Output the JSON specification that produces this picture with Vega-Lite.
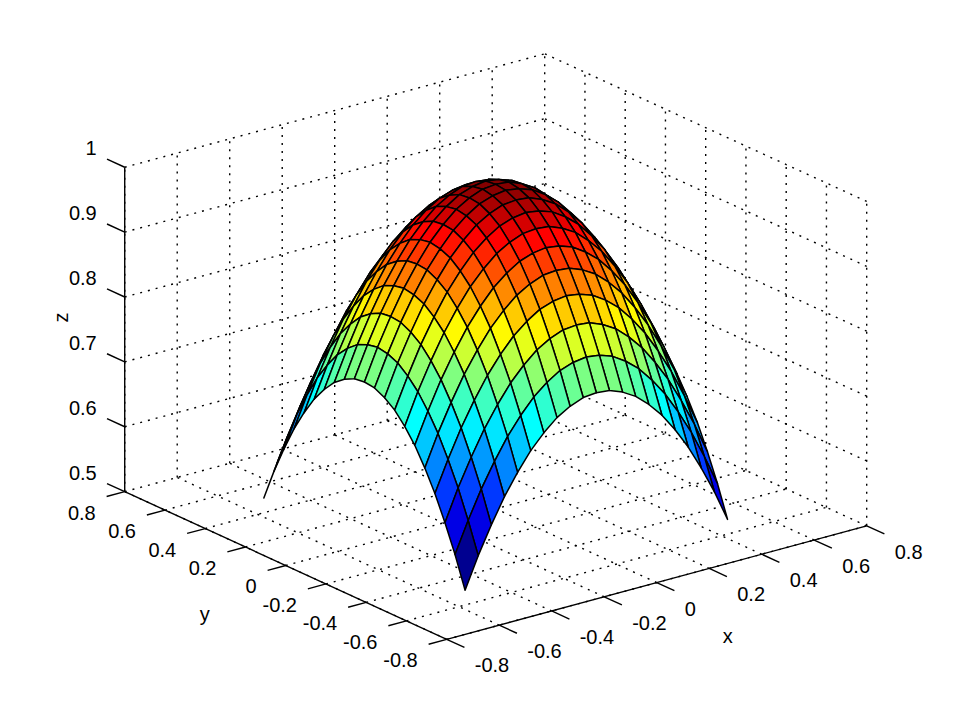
{"$schema":"https://vega.github.io/schema/vega-lite/v6.json","width":958,"height":719,"autosize":{"type":"fit","contains":"padding"},"padding":0,"background":"white","config":{"view":{"stroke":null},"text":{"font":"Liberation Sans","fontSize":20,"color":"#000"}},
"datasets":{
"surface":[
{"x":0.5,"y":0.5,"z":0.5},{"x":0.5,"y":0.45,"z":0.548},{"x":0.5,"y":0.4,"z":0.59},{"x":0.5,"y":0.35,"z":0.628},{"x":0.5,"y":0.3,"z":0.66},{"x":0.5,"y":0.25,"z":0.688},{"x":0.5,"y":0.2,"z":0.71},{"x":0.5,"y":0.15,"z":0.728},{"x":0.5,"y":0.1,"z":0.74},{"x":0.5,"y":0.05,"z":0.748},{"x":0.5,"y":0,"z":0.75},{"x":0.5,"y":-0.05,"z":0.748},{"x":0.5,"y":-0.1,"z":0.74},{"x":0.5,"y":-0.15,"z":0.728},{"x":0.5,"y":-0.2,"z":0.71},{"x":0.5,"y":-0.25,"z":0.688},{"x":0.5,"y":-0.3,"z":0.66},{"x":0.5,"y":-0.35,"z":0.628},{"x":0.5,"y":-0.4,"z":0.59},{"x":0.5,"y":-0.45,"z":0.548},{"x":0.5,"y":-0.5,"z":0.5},
{"x":0.45,"y":0.5,"z":0.548},{"x":0.45,"y":0.45,"z":0.595},{"x":0.45,"y":0.4,"z":0.638},{"x":0.45,"y":0.35,"z":0.675},{"x":0.45,"y":0.3,"z":0.708},{"x":0.45,"y":0.25,"z":0.735},{"x":0.45,"y":0.2,"z":0.758},{"x":0.45,"y":0.15,"z":0.775},{"x":0.45,"y":0.1,"z":0.788},{"x":0.45,"y":0.05,"z":0.795},{"x":0.45,"y":0,"z":0.798},{"x":0.45,"y":-0.05,"z":0.795},{"x":0.45,"y":-0.1,"z":0.788},{"x":0.45,"y":-0.15,"z":0.775},{"x":0.45,"y":-0.2,"z":0.758},{"x":0.45,"y":-0.25,"z":0.735},{"x":0.45,"y":-0.3,"z":0.708},{"x":0.45,"y":-0.35,"z":0.675},{"x":0.45,"y":-0.4,"z":0.638},{"x":0.45,"y":-0.45,"z":0.595},{"x":0.45,"y":-0.5,"z":0.548},
{"x":0.4,"y":0.5,"z":0.59},{"x":0.4,"y":0.45,"z":0.638},{"x":0.4,"y":0.4,"z":0.68},{"x":0.4,"y":0.35,"z":0.718},{"x":0.4,"y":0.3,"z":0.75},{"x":0.4,"y":0.25,"z":0.778},{"x":0.4,"y":0.2,"z":0.8},{"x":0.4,"y":0.15,"z":0.818},{"x":0.4,"y":0.1,"z":0.83},{"x":0.4,"y":0.05,"z":0.838},{"x":0.4,"y":0,"z":0.84},{"x":0.4,"y":-0.05,"z":0.838},{"x":0.4,"y":-0.1,"z":0.83},{"x":0.4,"y":-0.15,"z":0.818},{"x":0.4,"y":-0.2,"z":0.8},{"x":0.4,"y":-0.25,"z":0.778},{"x":0.4,"y":-0.3,"z":0.75},{"x":0.4,"y":-0.35,"z":0.718},{"x":0.4,"y":-0.4,"z":0.68},{"x":0.4,"y":-0.45,"z":0.638},{"x":0.4,"y":-0.5,"z":0.59},
{"x":0.35,"y":0.5,"z":0.628},{"x":0.35,"y":0.45,"z":0.675},{"x":0.35,"y":0.4,"z":0.718},{"x":0.35,"y":0.35,"z":0.755},{"x":0.35,"y":0.3,"z":0.788},{"x":0.35,"y":0.25,"z":0.815},{"x":0.35,"y":0.2,"z":0.838},{"x":0.35,"y":0.15,"z":0.855},{"x":0.35,"y":0.1,"z":0.868},{"x":0.35,"y":0.05,"z":0.875},{"x":0.35,"y":0,"z":0.878},{"x":0.35,"y":-0.05,"z":0.875},{"x":0.35,"y":-0.1,"z":0.868},{"x":0.35,"y":-0.15,"z":0.855},{"x":0.35,"y":-0.2,"z":0.838},{"x":0.35,"y":-0.25,"z":0.815},{"x":0.35,"y":-0.3,"z":0.788},{"x":0.35,"y":-0.35,"z":0.755},{"x":0.35,"y":-0.4,"z":0.718},{"x":0.35,"y":-0.45,"z":0.675},{"x":0.35,"y":-0.5,"z":0.628},
{"x":0.3,"y":0.5,"z":0.66},{"x":0.3,"y":0.45,"z":0.708},{"x":0.3,"y":0.4,"z":0.75},{"x":0.3,"y":0.35,"z":0.788},{"x":0.3,"y":0.3,"z":0.82},{"x":0.3,"y":0.25,"z":0.848},{"x":0.3,"y":0.2,"z":0.87},{"x":0.3,"y":0.15,"z":0.888},{"x":0.3,"y":0.1,"z":0.9},{"x":0.3,"y":0.05,"z":0.908},{"x":0.3,"y":0,"z":0.91},{"x":0.3,"y":-0.05,"z":0.908},{"x":0.3,"y":-0.1,"z":0.9},{"x":0.3,"y":-0.15,"z":0.888},{"x":0.3,"y":-0.2,"z":0.87},{"x":0.3,"y":-0.25,"z":0.848},{"x":0.3,"y":-0.3,"z":0.82},{"x":0.3,"y":-0.35,"z":0.788},{"x":0.3,"y":-0.4,"z":0.75},{"x":0.3,"y":-0.45,"z":0.708},{"x":0.3,"y":-0.5,"z":0.66},
{"x":0.25,"y":0.5,"z":0.688},{"x":0.25,"y":0.45,"z":0.735},{"x":0.25,"y":0.4,"z":0.778},{"x":0.25,"y":0.35,"z":0.815},{"x":0.25,"y":0.3,"z":0.848},{"x":0.25,"y":0.25,"z":0.875},{"x":0.25,"y":0.2,"z":0.898},{"x":0.25,"y":0.15,"z":0.915},{"x":0.25,"y":0.1,"z":0.928},{"x":0.25,"y":0.05,"z":0.935},{"x":0.25,"y":0,"z":0.938},{"x":0.25,"y":-0.05,"z":0.935},{"x":0.25,"y":-0.1,"z":0.928},{"x":0.25,"y":-0.15,"z":0.915},{"x":0.25,"y":-0.2,"z":0.898},{"x":0.25,"y":-0.25,"z":0.875},{"x":0.25,"y":-0.3,"z":0.848},{"x":0.25,"y":-0.35,"z":0.815},{"x":0.25,"y":-0.4,"z":0.778},{"x":0.25,"y":-0.45,"z":0.735},{"x":0.25,"y":-0.5,"z":0.688},
{"x":0.2,"y":0.5,"z":0.71},{"x":0.2,"y":0.45,"z":0.758},{"x":0.2,"y":0.4,"z":0.8},{"x":0.2,"y":0.35,"z":0.838},{"x":0.2,"y":0.3,"z":0.87},{"x":0.2,"y":0.25,"z":0.898},{"x":0.2,"y":0.2,"z":0.92},{"x":0.2,"y":0.15,"z":0.938},{"x":0.2,"y":0.1,"z":0.95},{"x":0.2,"y":0.05,"z":0.958},{"x":0.2,"y":0,"z":0.96},{"x":0.2,"y":-0.05,"z":0.958},{"x":0.2,"y":-0.1,"z":0.95},{"x":0.2,"y":-0.15,"z":0.938},{"x":0.2,"y":-0.2,"z":0.92},{"x":0.2,"y":-0.25,"z":0.898},{"x":0.2,"y":-0.3,"z":0.87},{"x":0.2,"y":-0.35,"z":0.838},{"x":0.2,"y":-0.4,"z":0.8},{"x":0.2,"y":-0.45,"z":0.758},{"x":0.2,"y":-0.5,"z":0.71},
{"x":0.15,"y":0.5,"z":0.728},{"x":0.15,"y":0.45,"z":0.775},{"x":0.15,"y":0.4,"z":0.818},{"x":0.15,"y":0.35,"z":0.855},{"x":0.15,"y":0.3,"z":0.888},{"x":0.15,"y":0.25,"z":0.915},{"x":0.15,"y":0.2,"z":0.938},{"x":0.15,"y":0.15,"z":0.955},{"x":0.15,"y":0.1,"z":0.968},{"x":0.15,"y":0.05,"z":0.975},{"x":0.15,"y":0,"z":0.978},{"x":0.15,"y":-0.05,"z":0.975},{"x":0.15,"y":-0.1,"z":0.968},{"x":0.15,"y":-0.15,"z":0.955},{"x":0.15,"y":-0.2,"z":0.938},{"x":0.15,"y":-0.25,"z":0.915},{"x":0.15,"y":-0.3,"z":0.888},{"x":0.15,"y":-0.35,"z":0.855},{"x":0.15,"y":-0.4,"z":0.818},{"x":0.15,"y":-0.45,"z":0.775},{"x":0.15,"y":-0.5,"z":0.728},
{"x":0.1,"y":0.5,"z":0.74},{"x":0.1,"y":0.45,"z":0.788},{"x":0.1,"y":0.4,"z":0.83},{"x":0.1,"y":0.35,"z":0.868},{"x":0.1,"y":0.3,"z":0.9},{"x":0.1,"y":0.25,"z":0.928},{"x":0.1,"y":0.2,"z":0.95},{"x":0.1,"y":0.15,"z":0.968},{"x":0.1,"y":0.1,"z":0.98},{"x":0.1,"y":0.05,"z":0.988},{"x":0.1,"y":0,"z":0.99},{"x":0.1,"y":-0.05,"z":0.988},{"x":0.1,"y":-0.1,"z":0.98},{"x":0.1,"y":-0.15,"z":0.968},{"x":0.1,"y":-0.2,"z":0.95},{"x":0.1,"y":-0.25,"z":0.928},{"x":0.1,"y":-0.3,"z":0.9},{"x":0.1,"y":-0.35,"z":0.868},{"x":0.1,"y":-0.4,"z":0.83},{"x":0.1,"y":-0.45,"z":0.788},{"x":0.1,"y":-0.5,"z":0.74},
{"x":0.05,"y":0.5,"z":0.748},{"x":0.05,"y":0.45,"z":0.795},{"x":0.05,"y":0.4,"z":0.838},{"x":0.05,"y":0.35,"z":0.875},{"x":0.05,"y":0.3,"z":0.908},{"x":0.05,"y":0.25,"z":0.935},{"x":0.05,"y":0.2,"z":0.958},{"x":0.05,"y":0.15,"z":0.975},{"x":0.05,"y":0.1,"z":0.988},{"x":0.05,"y":0.05,"z":0.995},{"x":0.05,"y":0,"z":0.998},{"x":0.05,"y":-0.05,"z":0.995},{"x":0.05,"y":-0.1,"z":0.988},{"x":0.05,"y":-0.15,"z":0.975},{"x":0.05,"y":-0.2,"z":0.958},{"x":0.05,"y":-0.25,"z":0.935},{"x":0.05,"y":-0.3,"z":0.908},{"x":0.05,"y":-0.35,"z":0.875},{"x":0.05,"y":-0.4,"z":0.838},{"x":0.05,"y":-0.45,"z":0.795},{"x":0.05,"y":-0.5,"z":0.748},
{"x":0,"y":0.5,"z":0.75},{"x":0,"y":0.45,"z":0.798},{"x":0,"y":0.4,"z":0.84},{"x":0,"y":0.35,"z":0.878},{"x":0,"y":0.3,"z":0.91},{"x":0,"y":0.25,"z":0.938},{"x":0,"y":0.2,"z":0.96},{"x":0,"y":0.15,"z":0.978},{"x":0,"y":0.1,"z":0.99},{"x":0,"y":0.05,"z":0.998},{"x":0,"y":0,"z":1},{"x":0,"y":-0.05,"z":0.998},{"x":0,"y":-0.1,"z":0.99},{"x":0,"y":-0.15,"z":0.978},{"x":0,"y":-0.2,"z":0.96},{"x":0,"y":-0.25,"z":0.938},{"x":0,"y":-0.3,"z":0.91},{"x":0,"y":-0.35,"z":0.878},{"x":0,"y":-0.4,"z":0.84},{"x":0,"y":-0.45,"z":0.798},{"x":0,"y":-0.5,"z":0.75},
{"x":-0.05,"y":0.5,"z":0.748},{"x":-0.05,"y":0.45,"z":0.795},{"x":-0.05,"y":0.4,"z":0.838},{"x":-0.05,"y":0.35,"z":0.875},{"x":-0.05,"y":0.3,"z":0.908},{"x":-0.05,"y":0.25,"z":0.935},{"x":-0.05,"y":0.2,"z":0.958},{"x":-0.05,"y":0.15,"z":0.975},{"x":-0.05,"y":0.1,"z":0.988},{"x":-0.05,"y":0.05,"z":0.995},{"x":-0.05,"y":0,"z":0.998},{"x":-0.05,"y":-0.05,"z":0.995},{"x":-0.05,"y":-0.1,"z":0.988},{"x":-0.05,"y":-0.15,"z":0.975},{"x":-0.05,"y":-0.2,"z":0.958},{"x":-0.05,"y":-0.25,"z":0.935},{"x":-0.05,"y":-0.3,"z":0.908},{"x":-0.05,"y":-0.35,"z":0.875},{"x":-0.05,"y":-0.4,"z":0.838},{"x":-0.05,"y":-0.45,"z":0.795},{"x":-0.05,"y":-0.5,"z":0.748},
{"x":-0.1,"y":0.5,"z":0.74},{"x":-0.1,"y":0.45,"z":0.788},{"x":-0.1,"y":0.4,"z":0.83},{"x":-0.1,"y":0.35,"z":0.868},{"x":-0.1,"y":0.3,"z":0.9},{"x":-0.1,"y":0.25,"z":0.928},{"x":-0.1,"y":0.2,"z":0.95},{"x":-0.1,"y":0.15,"z":0.968},{"x":-0.1,"y":0.1,"z":0.98},{"x":-0.1,"y":0.05,"z":0.988},{"x":-0.1,"y":0,"z":0.99},{"x":-0.1,"y":-0.05,"z":0.988},{"x":-0.1,"y":-0.1,"z":0.98},{"x":-0.1,"y":-0.15,"z":0.968},{"x":-0.1,"y":-0.2,"z":0.95},{"x":-0.1,"y":-0.25,"z":0.928},{"x":-0.1,"y":-0.3,"z":0.9},{"x":-0.1,"y":-0.35,"z":0.868},{"x":-0.1,"y":-0.4,"z":0.83},{"x":-0.1,"y":-0.45,"z":0.788},{"x":-0.1,"y":-0.5,"z":0.74},
{"x":-0.15,"y":0.5,"z":0.728},{"x":-0.15,"y":0.45,"z":0.775},{"x":-0.15,"y":0.4,"z":0.818},{"x":-0.15,"y":0.35,"z":0.855},{"x":-0.15,"y":0.3,"z":0.888},{"x":-0.15,"y":0.25,"z":0.915},{"x":-0.15,"y":0.2,"z":0.938},{"x":-0.15,"y":0.15,"z":0.955},{"x":-0.15,"y":0.1,"z":0.968},{"x":-0.15,"y":0.05,"z":0.975},{"x":-0.15,"y":0,"z":0.978},{"x":-0.15,"y":-0.05,"z":0.975},{"x":-0.15,"y":-0.1,"z":0.968},{"x":-0.15,"y":-0.15,"z":0.955},{"x":-0.15,"y":-0.2,"z":0.938},{"x":-0.15,"y":-0.25,"z":0.915},{"x":-0.15,"y":-0.3,"z":0.888},{"x":-0.15,"y":-0.35,"z":0.855},{"x":-0.15,"y":-0.4,"z":0.818},{"x":-0.15,"y":-0.45,"z":0.775},{"x":-0.15,"y":-0.5,"z":0.728},
{"x":-0.2,"y":0.5,"z":0.71},{"x":-0.2,"y":0.45,"z":0.758},{"x":-0.2,"y":0.4,"z":0.8},{"x":-0.2,"y":0.35,"z":0.838},{"x":-0.2,"y":0.3,"z":0.87},{"x":-0.2,"y":0.25,"z":0.898},{"x":-0.2,"y":0.2,"z":0.92},{"x":-0.2,"y":0.15,"z":0.938},{"x":-0.2,"y":0.1,"z":0.95},{"x":-0.2,"y":0.05,"z":0.958},{"x":-0.2,"y":0,"z":0.96},{"x":-0.2,"y":-0.05,"z":0.958},{"x":-0.2,"y":-0.1,"z":0.95},{"x":-0.2,"y":-0.15,"z":0.938},{"x":-0.2,"y":-0.2,"z":0.92},{"x":-0.2,"y":-0.25,"z":0.898},{"x":-0.2,"y":-0.3,"z":0.87},{"x":-0.2,"y":-0.35,"z":0.838},{"x":-0.2,"y":-0.4,"z":0.8},{"x":-0.2,"y":-0.45,"z":0.758},{"x":-0.2,"y":-0.5,"z":0.71},
{"x":-0.25,"y":0.5,"z":0.688},{"x":-0.25,"y":0.45,"z":0.735},{"x":-0.25,"y":0.4,"z":0.778},{"x":-0.25,"y":0.35,"z":0.815},{"x":-0.25,"y":0.3,"z":0.848},{"x":-0.25,"y":0.25,"z":0.875},{"x":-0.25,"y":0.2,"z":0.898},{"x":-0.25,"y":0.15,"z":0.915},{"x":-0.25,"y":0.1,"z":0.928},{"x":-0.25,"y":0.05,"z":0.935},{"x":-0.25,"y":0,"z":0.938},{"x":-0.25,"y":-0.05,"z":0.935},{"x":-0.25,"y":-0.1,"z":0.928},{"x":-0.25,"y":-0.15,"z":0.915},{"x":-0.25,"y":-0.2,"z":0.898},{"x":-0.25,"y":-0.25,"z":0.875},{"x":-0.25,"y":-0.3,"z":0.848},{"x":-0.25,"y":-0.35,"z":0.815},{"x":-0.25,"y":-0.4,"z":0.778},{"x":-0.25,"y":-0.45,"z":0.735},{"x":-0.25,"y":-0.5,"z":0.688},
{"x":-0.3,"y":0.5,"z":0.66},{"x":-0.3,"y":0.45,"z":0.708},{"x":-0.3,"y":0.4,"z":0.75},{"x":-0.3,"y":0.35,"z":0.788},{"x":-0.3,"y":0.3,"z":0.82},{"x":-0.3,"y":0.25,"z":0.848},{"x":-0.3,"y":0.2,"z":0.87},{"x":-0.3,"y":0.15,"z":0.888},{"x":-0.3,"y":0.1,"z":0.9},{"x":-0.3,"y":0.05,"z":0.908},{"x":-0.3,"y":0,"z":0.91},{"x":-0.3,"y":-0.05,"z":0.908},{"x":-0.3,"y":-0.1,"z":0.9},{"x":-0.3,"y":-0.15,"z":0.888},{"x":-0.3,"y":-0.2,"z":0.87},{"x":-0.3,"y":-0.25,"z":0.848},{"x":-0.3,"y":-0.3,"z":0.82},{"x":-0.3,"y":-0.35,"z":0.788},{"x":-0.3,"y":-0.4,"z":0.75},{"x":-0.3,"y":-0.45,"z":0.708},{"x":-0.3,"y":-0.5,"z":0.66},
{"x":-0.35,"y":0.5,"z":0.628},{"x":-0.35,"y":0.45,"z":0.675},{"x":-0.35,"y":0.4,"z":0.718},{"x":-0.35,"y":0.35,"z":0.755},{"x":-0.35,"y":0.3,"z":0.788},{"x":-0.35,"y":0.25,"z":0.815},{"x":-0.35,"y":0.2,"z":0.838},{"x":-0.35,"y":0.15,"z":0.855},{"x":-0.35,"y":0.1,"z":0.868},{"x":-0.35,"y":0.05,"z":0.875},{"x":-0.35,"y":0,"z":0.878},{"x":-0.35,"y":-0.05,"z":0.875},{"x":-0.35,"y":-0.1,"z":0.868},{"x":-0.35,"y":-0.15,"z":0.855},{"x":-0.35,"y":-0.2,"z":0.838},{"x":-0.35,"y":-0.25,"z":0.815},{"x":-0.35,"y":-0.3,"z":0.788},{"x":-0.35,"y":-0.35,"z":0.755},{"x":-0.35,"y":-0.4,"z":0.718},{"x":-0.35,"y":-0.45,"z":0.675},{"x":-0.35,"y":-0.5,"z":0.628},
{"x":-0.4,"y":0.5,"z":0.59},{"x":-0.4,"y":0.45,"z":0.638},{"x":-0.4,"y":0.4,"z":0.68},{"x":-0.4,"y":0.35,"z":0.718},{"x":-0.4,"y":0.3,"z":0.75},{"x":-0.4,"y":0.25,"z":0.778},{"x":-0.4,"y":0.2,"z":0.8},{"x":-0.4,"y":0.15,"z":0.818},{"x":-0.4,"y":0.1,"z":0.83},{"x":-0.4,"y":0.05,"z":0.838},{"x":-0.4,"y":0,"z":0.84},{"x":-0.4,"y":-0.05,"z":0.838},{"x":-0.4,"y":-0.1,"z":0.83},{"x":-0.4,"y":-0.15,"z":0.818},{"x":-0.4,"y":-0.2,"z":0.8},{"x":-0.4,"y":-0.25,"z":0.778},{"x":-0.4,"y":-0.3,"z":0.75},{"x":-0.4,"y":-0.35,"z":0.718},{"x":-0.4,"y":-0.4,"z":0.68},{"x":-0.4,"y":-0.45,"z":0.638},{"x":-0.4,"y":-0.5,"z":0.59},
{"x":-0.45,"y":0.5,"z":0.548},{"x":-0.45,"y":0.45,"z":0.595},{"x":-0.45,"y":0.4,"z":0.638},{"x":-0.45,"y":0.35,"z":0.675},{"x":-0.45,"y":0.3,"z":0.708},{"x":-0.45,"y":0.25,"z":0.735},{"x":-0.45,"y":0.2,"z":0.758},{"x":-0.45,"y":0.15,"z":0.775},{"x":-0.45,"y":0.1,"z":0.788},{"x":-0.45,"y":0.05,"z":0.795},{"x":-0.45,"y":0,"z":0.798},{"x":-0.45,"y":-0.05,"z":0.795},{"x":-0.45,"y":-0.1,"z":0.788},{"x":-0.45,"y":-0.15,"z":0.775},{"x":-0.45,"y":-0.2,"z":0.758},{"x":-0.45,"y":-0.25,"z":0.735},{"x":-0.45,"y":-0.3,"z":0.708},{"x":-0.45,"y":-0.35,"z":0.675},{"x":-0.45,"y":-0.4,"z":0.638},{"x":-0.45,"y":-0.45,"z":0.595},{"x":-0.45,"y":-0.5,"z":0.548},
{"x":-0.5,"y":0.5,"z":0.5},{"x":-0.5,"y":0.45,"z":0.548},{"x":-0.5,"y":0.4,"z":0.59},{"x":-0.5,"y":0.35,"z":0.628},{"x":-0.5,"y":0.3,"z":0.66},{"x":-0.5,"y":0.25,"z":0.688},{"x":-0.5,"y":0.2,"z":0.71},{"x":-0.5,"y":0.15,"z":0.728},{"x":-0.5,"y":0.1,"z":0.74},{"x":-0.5,"y":0.05,"z":0.748},{"x":-0.5,"y":0,"z":0.75},{"x":-0.5,"y":-0.05,"z":0.748},{"x":-0.5,"y":-0.1,"z":0.74},{"x":-0.5,"y":-0.15,"z":0.728},{"x":-0.5,"y":-0.2,"z":0.71},{"x":-0.5,"y":-0.25,"z":0.688},{"x":-0.5,"y":-0.3,"z":0.66},{"x":-0.5,"y":-0.35,"z":0.628},{"x":-0.5,"y":-0.4,"z":0.59},{"x":-0.5,"y":-0.45,"z":0.548},{"x":-0.5,"y":-0.5,"z":0.5}
],
"grid":[
{"x":-0.8,"y":-0.8,"z":0.5,"x2":-0.8,"y2":0.8,"z2":0.5},{"x":-0.6,"y":-0.8,"z":0.5,"x2":-0.6,"y2":0.8,"z2":0.5},{"x":-0.4,"y":-0.8,"z":0.5,"x2":-0.4,"y2":0.8,"z2":0.5},{"x":-0.2,"y":-0.8,"z":0.5,"x2":-0.2,"y2":0.8,"z2":0.5},{"x":0,"y":-0.8,"z":0.5,"x2":0,"y2":0.8,"z2":0.5},{"x":0.2,"y":-0.8,"z":0.5,"x2":0.2,"y2":0.8,"z2":0.5},{"x":0.4,"y":-0.8,"z":0.5,"x2":0.4,"y2":0.8,"z2":0.5},{"x":0.6,"y":-0.8,"z":0.5,"x2":0.6,"y2":0.8,"z2":0.5},{"x":0.8,"y":-0.8,"z":0.5,"x2":0.8,"y2":0.8,"z2":0.5},
{"x":-0.8,"y":-0.8,"z":0.5,"x2":0.8,"y2":-0.8,"z2":0.5},{"x":-0.8,"y":-0.6,"z":0.5,"x2":0.8,"y2":-0.6,"z2":0.5},{"x":-0.8,"y":-0.4,"z":0.5,"x2":0.8,"y2":-0.4,"z2":0.5},{"x":-0.8,"y":-0.2,"z":0.5,"x2":0.8,"y2":-0.2,"z2":0.5},{"x":-0.8,"y":0,"z":0.5,"x2":0.8,"y2":0,"z2":0.5},{"x":-0.8,"y":0.2,"z":0.5,"x2":0.8,"y2":0.2,"z2":0.5},{"x":-0.8,"y":0.4,"z":0.5,"x2":0.8,"y2":0.4,"z2":0.5},{"x":-0.8,"y":0.6,"z":0.5,"x2":0.8,"y2":0.6,"z2":0.5},{"x":-0.8,"y":0.8,"z":0.5,"x2":0.8,"y2":0.8,"z2":0.5},
{"x":-0.8,"y":0.8,"z":0.5,"x2":-0.8,"y2":0.8,"z2":1},{"x":-0.6,"y":0.8,"z":0.5,"x2":-0.6,"y2":0.8,"z2":1},{"x":-0.4,"y":0.8,"z":0.5,"x2":-0.4,"y2":0.8,"z2":1},{"x":-0.2,"y":0.8,"z":0.5,"x2":-0.2,"y2":0.8,"z2":1},{"x":0,"y":0.8,"z":0.5,"x2":0,"y2":0.8,"z2":1},{"x":0.2,"y":0.8,"z":0.5,"x2":0.2,"y2":0.8,"z2":1},{"x":0.4,"y":0.8,"z":0.5,"x2":0.4,"y2":0.8,"z2":1},{"x":0.6,"y":0.8,"z":0.5,"x2":0.6,"y2":0.8,"z2":1},{"x":0.8,"y":0.8,"z":0.5,"x2":0.8,"y2":0.8,"z2":1},
{"x":0.8,"y":-0.8,"z":0.5,"x2":0.8,"y2":-0.8,"z2":1},{"x":0.8,"y":-0.6,"z":0.5,"x2":0.8,"y2":-0.6,"z2":1},{"x":0.8,"y":-0.4,"z":0.5,"x2":0.8,"y2":-0.4,"z2":1},{"x":0.8,"y":-0.2,"z":0.5,"x2":0.8,"y2":-0.2,"z2":1},{"x":0.8,"y":0,"z":0.5,"x2":0.8,"y2":0,"z2":1},{"x":0.8,"y":0.2,"z":0.5,"x2":0.8,"y2":0.2,"z2":1},{"x":0.8,"y":0.4,"z":0.5,"x2":0.8,"y2":0.4,"z2":1},{"x":0.8,"y":0.6,"z":0.5,"x2":0.8,"y2":0.6,"z2":1},
{"x":-0.8,"y":0.8,"z":0.6,"x2":0.8,"y2":0.8,"z2":0.6},{"x":-0.8,"y":0.8,"z":0.7,"x2":0.8,"y2":0.8,"z2":0.7},{"x":-0.8,"y":0.8,"z":0.8,"x2":0.8,"y2":0.8,"z2":0.8},{"x":-0.8,"y":0.8,"z":0.9,"x2":0.8,"y2":0.8,"z2":0.9},{"x":-0.8,"y":0.8,"z":1,"x2":0.8,"y2":0.8,"z2":1},
{"x":0.8,"y":-0.8,"z":0.6,"x2":0.8,"y2":0.8,"z2":0.6},{"x":0.8,"y":-0.8,"z":0.7,"x2":0.8,"y2":0.8,"z2":0.7},{"x":0.8,"y":-0.8,"z":0.8,"x2":0.8,"y2":0.8,"z2":0.8},{"x":0.8,"y":-0.8,"z":0.9,"x2":0.8,"y2":0.8,"z2":0.9},{"x":0.8,"y":-0.8,"z":1,"x2":0.8,"y2":0.8,"z2":1}
],
"axes":[
{"x":-0.8,"y":-0.8,"z":0.5,"x2":0.8,"y2":-0.8,"z2":0.5},{"x":-0.8,"y":-0.8,"z":0.5,"x2":-0.8,"y2":0.8,"z2":0.5},{"x":-0.8,"y":0.8,"z":0.5,"x2":-0.8,"y2":0.8,"z2":1},
{"x":-0.8,"y":-0.8,"z":0.5,"x2":-0.8,"y2":-0.888,"z2":0.5},{"x":-0.6,"y":-0.8,"z":0.5,"x2":-0.6,"y2":-0.888,"z2":0.5},{"x":-0.4,"y":-0.8,"z":0.5,"x2":-0.4,"y2":-0.888,"z2":0.5},{"x":-0.2,"y":-0.8,"z":0.5,"x2":-0.2,"y2":-0.888,"z2":0.5},{"x":0,"y":-0.8,"z":0.5,"x2":0,"y2":-0.888,"z2":0.5},{"x":0.2,"y":-0.8,"z":0.5,"x2":0.2,"y2":-0.888,"z2":0.5},{"x":0.4,"y":-0.8,"z":0.5,"x2":0.4,"y2":-0.888,"z2":0.5},{"x":0.6,"y":-0.8,"z":0.5,"x2":0.6,"y2":-0.888,"z2":0.5},{"x":0.8,"y":-0.8,"z":0.5,"x2":0.8,"y2":-0.888,"z2":0.5},
{"x":-0.8,"y":-0.8,"z":0.5,"x2":-0.869,"y2":-0.8,"z2":0.5},{"x":-0.8,"y":-0.6,"z":0.5,"x2":-0.869,"y2":-0.6,"z2":0.5},{"x":-0.8,"y":-0.4,"z":0.5,"x2":-0.869,"y2":-0.4,"z2":0.5},{"x":-0.8,"y":-0.2,"z":0.5,"x2":-0.869,"y2":-0.2,"z2":0.5},{"x":-0.8,"y":0,"z":0.5,"x2":-0.869,"y2":0,"z2":0.5},{"x":-0.8,"y":0.2,"z":0.5,"x2":-0.869,"y2":0.2,"z2":0.5},{"x":-0.8,"y":0.4,"z":0.5,"x2":-0.869,"y2":0.4,"z2":0.5},{"x":-0.8,"y":0.6,"z":0.5,"x2":-0.869,"y2":0.6,"z2":0.5},{"x":-0.8,"y":0.8,"z":0.5,"x2":-0.869,"y2":0.8,"z2":0.5},
{"x":-0.8,"y":0.8,"z":0.5,"x2":-0.8,"y2":0.888,"z2":0.5},{"x":-0.8,"y":0.8,"z":0.6,"x2":-0.8,"y2":0.888,"z2":0.6},{"x":-0.8,"y":0.8,"z":0.7,"x2":-0.8,"y2":0.888,"z2":0.7},{"x":-0.8,"y":0.8,"z":0.8,"x2":-0.8,"y2":0.888,"z2":0.8},{"x":-0.8,"y":0.8,"z":0.9,"x2":-0.8,"y2":0.888,"z2":0.9},{"x":-0.8,"y":0.8,"z":1,"x2":-0.8,"y2":0.888,"z2":1}
],
"xlabels":[{"t":"-0.8","x":-0.8,"y":-0.8,"z":0.5},{"t":"-0.6","x":-0.6,"y":-0.8,"z":0.5},{"t":"-0.4","x":-0.4,"y":-0.8,"z":0.5},{"t":"-0.2","x":-0.2,"y":-0.8,"z":0.5},{"t":"0","x":0,"y":-0.8,"z":0.5},{"t":"0.2","x":0.2,"y":-0.8,"z":0.5},{"t":"0.4","x":0.4,"y":-0.8,"z":0.5},{"t":"0.6","x":0.6,"y":-0.8,"z":0.5},{"t":"0.8","x":0.8,"y":-0.8,"z":0.5}],
"ylabels":[{"t":"-0.8","x":-0.8,"y":-0.8,"z":0.5},{"t":"-0.6","x":-0.8,"y":-0.6,"z":0.5},{"t":"-0.4","x":-0.8,"y":-0.4,"z":0.5},{"t":"-0.2","x":-0.8,"y":-0.2,"z":0.5},{"t":"0","x":-0.8,"y":0,"z":0.5},{"t":"0.2","x":-0.8,"y":0.2,"z":0.5},{"t":"0.4","x":-0.8,"y":0.4,"z":0.5},{"t":"0.6","x":-0.8,"y":0.6,"z":0.5},{"t":"0.8","x":-0.8,"y":0.8,"z":0.5}],
"zlabels":[{"t":"0.5","x":-0.8,"y":0.8,"z":0.5},{"t":"0.6","x":-0.8,"y":0.8,"z":0.6},{"t":"0.7","x":-0.8,"y":0.8,"z":0.7},{"t":"0.8","x":-0.8,"y":0.8,"z":0.8},{"t":"0.9","x":-0.8,"y":0.8,"z":0.9},{"t":"1","x":-0.8,"y":0.8,"z":1}],
"titles":[{"t":"x","x":0,"y":-0.8,"z":0.5},{"t":"y","x":-0.8,"y":0,"z":0.5},{"t":"z","x":-0.8,"y":0.8,"z":0.75}]
},
"layer":[
{"data":{"name":"grid"},"transform":[
{"calculate":"0.793*(datum.x+0.8)/1.6-0.608*(datum.y+0.8)/1.6","as":"px"},{"calculate":"0.305*(datum.x+0.8)/1.6+0.397*(datum.y+0.8)/1.6+0.872*(datum.z-0.5)/0.5","as":"py"},
{"calculate":"0.793*(datum.x2+0.8)/1.6-0.608*(datum.y2+0.8)/1.6","as":"px2"},{"calculate":"0.305*(datum.x2+0.8)/1.6+0.397*(datum.y2+0.8)/1.6+0.872*(datum.z2-0.5)/0.5","as":"py2"}],
"mark":{"type":"rule","color":"#000","strokeWidth":1.4,"strokeDash":[2,6]},
"encoding":{"x":{"field":"px","type":"quantitative","scale":{"domain":[-0.8435,0.9654],"nice":false,"zero":false},"axis":null},"y":{"field":"py","type":"quantitative","scale":{"domain":[-0.2142,1.7186],"nice":false,"zero":false},"axis":null},"x2":{"field":"px2"},"y2":{"field":"py2"}}},
{"data":{"name":"axes"},"transform":[
{"calculate":"0.793*(datum.x+0.8)/1.6-0.608*(datum.y+0.8)/1.6","as":"px"},{"calculate":"0.305*(datum.x+0.8)/1.6+0.397*(datum.y+0.8)/1.6+0.872*(datum.z-0.5)/0.5","as":"py"},
{"calculate":"0.793*(datum.x2+0.8)/1.6-0.608*(datum.y2+0.8)/1.6","as":"px2"},{"calculate":"0.305*(datum.x2+0.8)/1.6+0.397*(datum.y2+0.8)/1.6+0.872*(datum.z2-0.5)/0.5","as":"py2"}],
"mark":{"type":"rule","color":"#000","strokeWidth":1.4},
"encoding":{"x":{"field":"px","type":"quantitative","axis":null},"y":{"field":"py","type":"quantitative","axis":null},"x2":{"field":"px2"},"y2":{"field":"py2"}}},
{"data":{"name":"surface"},"transform":[
{"calculate":"0.793*(datum.x+0.8)/1.6-0.608*(datum.y+0.8)/1.6","as":"px"},{"calculate":"0.305*(datum.x+0.8)/1.6+0.397*(datum.y+0.8)/1.6+0.872*(datum.z-0.5)/0.5","as":"py"},
{"calculate":"round((datum.x+0.5)/0.05)","as":"i"},{"calculate":"round((datum.y+0.5)/0.05)","as":"j"},
{"calculate":"[0,1,2,3]","as":"k"},{"flatten":["k"]},
{"calculate":"datum.i-((datum.k==1||datum.k==2)?1:0)","as":"ci"},{"calculate":"datum.j-(datum.k>=2?1:0)","as":"cj"},
{"filter":"datum.ci>=0&&datum.ci<20&&datum.cj>=0&&datum.cj<20"},
{"calculate":"datum.ci*100+datum.cj","as":"cell"},
{"calculate":"datum.k==0?datum.z:null","as":"c0"},
{"joinaggregate":[{"op":"max","field":"c0","as":"c"}],"groupby":["cell"]}],
"mark":{"type":"line","interpolate":"linear-closed","stroke":"#000","strokeWidth":1.5,"strokeJoin":"round","tooltip":false},
"encoding":{"x":{"field":"px","type":"quantitative","axis":null},"y":{"field":"py","type":"quantitative","axis":null},"detail":{"field":"cell","type":"nominal"},"order":{"field":"k","type":"quantitative"},
"fill":{"field":"c","type":"quantitative","legend":null,"scale":{"domain":[0.5,0.5625,0.6875,0.8125,0.9375,1],"range":["#000090","#0000ff","#00ffff","#ffff00","#ff0000","#800000"],"interpolate":"rgb","zero":false,"nice":false}}}},
{"data":{"name":"xlabels"},"transform":[{"calculate":"0.793*(datum.x+0.8)/1.6-0.608*(datum.y+0.8)/1.6","as":"px"},{"calculate":"0.305*(datum.x+0.8)/1.6+0.397*(datum.y+0.8)/1.6+0.872*(datum.z-0.5)/0.5","as":"py"}],
"mark":{"type":"text","align":"left","baseline":"middle","dx":28,"dy":27},
"encoding":{"x":{"field":"px","type":"quantitative","axis":null},"y":{"field":"py","type":"quantitative","axis":null},"text":{"field":"t"}}},
{"data":{"name":"ylabels"},"transform":[{"calculate":"0.793*(datum.x+0.8)/1.6-0.608*(datum.y+0.8)/1.6","as":"px"},{"calculate":"0.305*(datum.x+0.8)/1.6+0.397*(datum.y+0.8)/1.6+0.872*(datum.z-0.5)/0.5","as":"py"}],
"mark":{"type":"text","align":"right","baseline":"middle","dx":-29,"dy":22},
"encoding":{"x":{"field":"px","type":"quantitative","axis":null},"y":{"field":"py","type":"quantitative","axis":null},"text":{"field":"t"}}},
{"data":{"name":"zlabels"},"transform":[{"calculate":"0.793*(datum.x+0.8)/1.6-0.608*(datum.y+0.8)/1.6","as":"px"},{"calculate":"0.305*(datum.x+0.8)/1.6+0.397*(datum.y+0.8)/1.6+0.872*(datum.z-0.5)/0.5","as":"py"}],
"mark":{"type":"text","align":"right","baseline":"middle","dx":-28,"dy":-18},
"encoding":{"x":{"field":"px","type":"quantitative","axis":null},"y":{"field":"py","type":"quantitative","axis":null},"text":{"field":"t"}}},
{"data":{"name":"titles"},"transform":[{"filter":"datum.t=='x'"},{"calculate":"0.793*(datum.x+0.8)/1.6-0.608*(datum.y+0.8)/1.6","as":"px"},{"calculate":"0.305*(datum.x+0.8)/1.6+0.397*(datum.y+0.8)/1.6+0.872*(datum.z-0.5)/0.5","as":"py"}],
"mark":{"type":"text","align":"center","baseline":"middle","dx":71,"dy":54},
"encoding":{"x":{"field":"px","type":"quantitative","axis":null},"y":{"field":"py","type":"quantitative","axis":null},"text":{"field":"t"}}},
{"data":{"name":"titles"},"transform":[{"filter":"datum.t=='y'"},{"calculate":"0.793*(datum.x+0.8)/1.6-0.608*(datum.y+0.8)/1.6","as":"px"},{"calculate":"0.305*(datum.x+0.8)/1.6+0.397*(datum.y+0.8)/1.6+0.872*(datum.z-0.5)/0.5","as":"py"}],
"mark":{"type":"text","align":"center","baseline":"middle","dx":-81,"dy":50},
"encoding":{"x":{"field":"px","type":"quantitative","axis":null},"y":{"field":"py","type":"quantitative","axis":null},"text":{"field":"t"}}},
{"data":{"name":"titles"},"transform":[{"filter":"datum.t=='z'"},{"calculate":"0.793*(datum.x+0.8)/1.6-0.608*(datum.y+0.8)/1.6","as":"px"},{"calculate":"0.305*(datum.x+0.8)/1.6+0.397*(datum.y+0.8)/1.6+0.872*(datum.z-0.5)/0.5","as":"py"}],
"mark":{"type":"text","align":"center","baseline":"middle","angle":270,"dx":12,"dy":-63},
"encoding":{"x":{"field":"px","type":"quantitative","axis":null},"y":{"field":"py","type":"quantitative","axis":null},"text":{"field":"t"}}}
]}
